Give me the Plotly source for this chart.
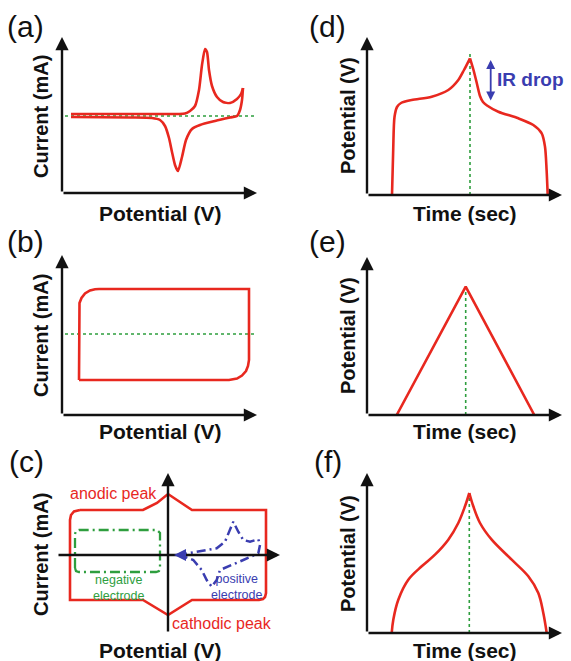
import plotly.graph_objects as go

W, H = 571, 661
RED = "#e8281f"
GREEN = "#2e9e3e"
BLUE = "#3a3db0"
BLACK = "#111111"
FONT = "Liberation Sans, Arial, sans-serif"

# ---------------- data (schematic units) ----------------
# (a) CV with redox peaks: forward (anodic) and reverse (cathodic) sweeps
CV_A_FWD_X = [9, 88, 123, 128, 133, 137, 140, 143, 145, 147, 150, 155, 161, 168, 175, 179, 181]
CV_A_FWD_Y = [79, 79, 79.5, 82, 87, 103, 128, 144, 141, 123, 107, 96, 91, 90, 94, 99, 105]
CV_A_REV_X = [181, 180, 178, 175, 168, 153, 138, 130, 124, 120, 116, 113, 110, 107, 103, 98,
              90, 68, 9]
CV_A_REV_Y = [105, 93, 83, 77, 75.5, 72, 68, 64, 53, 36, 22, 28, 41, 55, 67, 73, 75, 75.5, 76]
BASE_A_X = [3, 193]
BASE_A_Y = [77, 77]

# (b) rectangular CV (EDLC)
CV_B_X = [17, 17, 17.5, 19.5, 23, 28, 33, 37, 187, 187, 186, 184, 180, 175, 170, 167, 17]
CV_B_Y = [35, 106, 112, 117, 121.5, 124.5, 125.8, 126, 126, 55, 49, 44, 39.5, 36.5, 35.2, 35, 35]
BASE_B_X = [3, 193]
BASE_B_Y = [81, 81]

# (c) hybrid device CV
CV_C_X = [-88, -25, -11, 0, 24, 98, 98, 97, 95, 91, 24, 0, -25, -98, -98, -97, -94, -88]
CV_C_Y = [45, 45, 52, 61, 45, 45, -38, -42, -44, -45, -45, -60, -45, -45, 35, 40, 43.5, 45]
NEG_X = [-93, -93, -92, -89, -11, -8, -8, -9, -12, -89, -92, -93]
NEG_Y = [-13, 21, 24, 25, 25, 22, -14, -16, -17, -17, -16, -13]
POS_X = [10, 48.7, 57, 62, 65.3, 70.3, 75.3, 82, 90.3, 92, 90.3, 75.3, 58.7, 52, 48.7, 43.7,
         38.7, 33.7, 25.3, 12]
POS_Y = [0, 6.7, 13.3, 25, 33.3, 23.3, 15, 13.3, 15.7, 10, 1.7, -5, -11.7, -15, -25, -31.7,
         -25, -15, -5, 0]

# (d) battery-type GCD: charge and discharge
CHG_D_X = [25, 26.2, 27.5, 30, 34, 44.7, 64.7, 81.3, 91.3, 97, 103]
CHG_D_Y = [0, 45, 78, 88, 92, 95, 98.3, 105, 115, 125, 136.7]
DIS_D_X = [103, 106.5, 110, 113, 116, 120, 131.3, 151.3, 166.3, 174.7, 178, 179.6, 180.7]
DIS_D_Y = [136.7, 125, 111, 99, 93, 89.5, 83.3, 76.7, 70, 61.7, 48.3, 25, 0]
MID_D_X = [103, 103]
MID_D_Y = [0, 142]
IR_X = 123.7
IR_Y = [93, 135]

# (e) capacitive GCD
GCD_E_X = [29.7, 98.7, 167.3]
GCD_E_Y = [0, 128.3, 0]
MID_E_X = [98.7, 98.7]
MID_E_Y = [0, 128.3]

# (f) pseudocapacitive GCD: charge and discharge
CHG_F_X = [24.7, 26.3, 31.3, 41.3, 54.7, 68, 81.3, 91.3, 98, 102.3]
CHG_F_Y = [0, 13.3, 33.3, 53.3, 66.7, 78.3, 93.3, 110, 126.7, 140]
DIS_F_X = [102.3, 106.3, 113, 124.7, 144.7, 161.3, 171.3, 176.3, 179.7]
DIS_F_Y = [140, 126.7, 110, 93.3, 73.3, 56.7, 40, 20, 0]
MID_F_X = [102.3, 102.3]
MID_F_Y = [0, 140]

# ---------------- layout helpers ----------------
PANELS = {
    "a": dict(n=1, ox=62, oy=193, xr=[0, 195], yr=[0, 156]),
    "b": dict(n=2, ox=62, oy=415, xr=[0, 195], yr=[0, 160]),
    "c": dict(n=3, ox=168, oy=555, xr=[-111, 112], yr=[-78, 82]),
    "d": dict(n=4, ox=367, oy=195, xr=[0, 195], yr=[0, 158]),
    "e": dict(n=5, ox=367, oy=415, xr=[0, 195], yr=[0, 158]),
    "f": dict(n=6, ox=367, oy=633, xr=[0, 195], yr=[0, 160]),
}

fig = go.Figure()
layout = dict(width=W, height=H, margin=dict(l=0, r=0, t=0, b=0),
              paper_bgcolor="white", plot_bgcolor="rgba(0,0,0,0)", showlegend=False)
annotations = []

for key, p in PANELS.items():
    n = p["n"]
    x0 = p["ox"] + p["xr"][0]
    x1 = p["ox"] + p["xr"][1]
    y_bot = p["oy"] - p["yr"][0]
    y_top = p["oy"] - p["yr"][1]
    sfx = "" if n == 1 else str(n)
    layout["xaxis" + sfx] = dict(domain=[x0 / W, x1 / W], range=p["xr"], visible=False,
                                 anchor="y" + sfx, fixedrange=True)
    layout["yaxis" + sfx] = dict(domain=[1 - y_bot / H, 1 - y_top / H], range=p["yr"],
                                 visible=False, anchor="x" + sfx, fixedrange=True)
    xa, ya = "x" + sfx, "y" + sfx
    p["xa"], p["ya"] = xa, ya
    annotations.append(dict(x=p["xr"][1], y=0, ax=p["xr"][0], ay=0, xref=xa, yref=ya,
                            axref=xa, ayref=ya, showarrow=True, arrowhead=2, arrowsize=1.1,
                            arrowwidth=2.4, arrowcolor=BLACK, text=""))
    annotations.append(dict(x=0, y=p["yr"][1], ax=0, ay=p["yr"][0], xref=xa, yref=ya,
                            axref=xa, ayref=ya, showarrow=True, arrowhead=2, arrowsize=1.1,
                            arrowwidth=2.4, arrowcolor=BLACK, text=""))


def add(key, x, y, color, width=2.6, dash="solid", shape="linear", smooth=None):
    p = PANELS[key]
    line = dict(color=color, width=width, dash=dash, shape=shape)
    if smooth is not None:
        line["smoothing"] = smooth
    fig.add_trace(go.Scatter(x=x, y=y, mode="lines", xaxis=p["xa"], yaxis=p["ya"],
                             line=line, hoverinfo="skip"))


add("a", BASE_A_X, BASE_A_Y, GREEN, 1.6, "dot")
add("a", CV_A_FWD_X, CV_A_FWD_Y, RED, shape="spline", smooth=0.6)
add("a", CV_A_REV_X, CV_A_REV_Y, RED, shape="spline", smooth=0.6)
add("b", BASE_B_X, BASE_B_Y, GREEN, 1.6, "dot")
add("b", CV_B_X, CV_B_Y, RED)
add("c", CV_C_X, CV_C_Y, RED)
add("c", NEG_X, NEG_Y, GREEN, 2.3, "10px,4px,2px,4px")
add("c", POS_X, POS_Y, BLUE, 2.5, "9px,4px,2px,4px")
add("d", MID_D_X, MID_D_Y, GREEN, 1.6, "dot")
add("d", CHG_D_X, CHG_D_Y, RED, shape="spline", smooth=0.8)
add("d", DIS_D_X, DIS_D_Y, RED, shape="spline", smooth=0.8)
add("e", MID_E_X, MID_E_Y, GREEN, 1.6, "dot")
add("e", GCD_E_X, GCD_E_Y, RED)
add("f", MID_F_X, MID_F_Y, GREEN, 1.6, "dot")
add("f", CHG_F_X, CHG_F_Y, RED, shape="spline", smooth=1.0)
add("f", DIS_F_X, DIS_F_Y, RED, shape="spline", smooth=1.0)

pc = PANELS["c"]
annotations.append(dict(x=POS_X[0] - 4, y=0, ax=POS_X[0] + 4, ay=0, xref=pc["xa"], yref=pc["ya"],
                        axref=pc["xa"], ayref=pc["ya"], showarrow=True, arrowhead=2,
                        arrowsize=1.2, arrowwidth=2, arrowcolor=BLUE, text=""))
pd_ = PANELS["d"]
annotations.append(dict(x=IR_X, y=IR_Y[1], ax=IR_X, ay=IR_Y[0], xref=pd_["xa"], yref=pd_["ya"],
                        axref=pd_["xa"], ayref=pd_["ya"], showarrow=True, arrowhead=2,
                        arrowside="end+start", arrowsize=1.0, arrowwidth=1.8,
                        arrowcolor=BLUE, text=""))


def txt(s, px, py, size, color=BLACK, bold=False, angle=0, xanchor="center"):
    annotations.append(dict(text=s, x=px / W, y=1 - py / H, xref="paper", yref="paper",
                            showarrow=False, xanchor=xanchor, yanchor="middle",
                            textangle=angle,
                            font=dict(family=FONT, size=size, color=color,
                                      weight="bold" if bold else "normal")))


for s, px, py in [("(a)", 25, 26), ("(b)", 25, 241), ("(c)", 26, 461),
                  ("(d)", 327, 26), ("(e)", 327, 241), ("(f)", 328, 461)]:
    txt(s, px, py, 30)

for py in (116, 335, 554):
    txt("Current (mA)", 41, py, 20, bold=True, angle=-90)
for py in (213, 432, 650):
    txt("Potential (V)", 160, py, 21, bold=True)
for py in (116, 336, 554):
    txt("Potential (V)", 348, py, 20, bold=True, angle=-90)
for py in (213, 432, 650):
    txt("Time (sec)", 465, py, 21, bold=True)

txt("anodic peak", 113, 493, 16, RED)
txt("cathodic peak", 222, 623, 16, RED)
txt("negative<br>electrode", 118, 588, 12.5, GREEN)
txt("positive<br>electrode", 236, 587, 12.5, BLUE)
txt("IR drop", 495, 80, 19, BLUE, bold=True, xanchor="left")

layout["annotations"] = annotations
fig.update_layout(**layout)
fig.write_html("out.html", config={"displayModeBar": False},
               post_script="document.body.style.margin='0';document.body.style.overflow='hidden';")
